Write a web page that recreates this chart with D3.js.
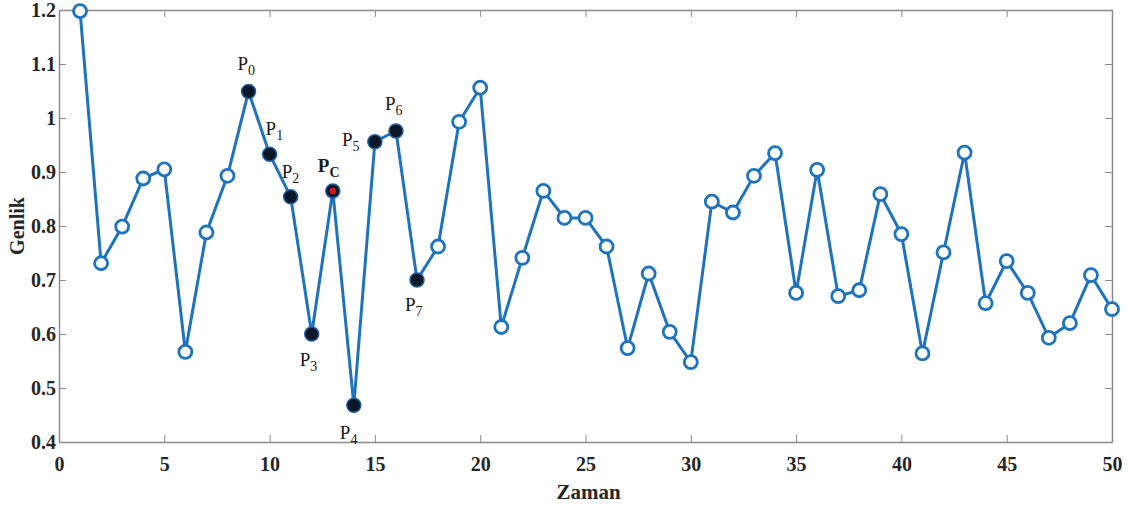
<!DOCTYPE html>
<html>
<head>
<meta charset="utf-8">
<script src="https://cdn.jsdelivr.net/npm/d3@7"></script>
<style>
  body { margin: 0; background: #fff; }
  svg { display: block; }
</style>
</head>
<body>
<div id="chart"></div>
<script>
// zaman (x) ve genlik (y) degerleri
const zaman = d3.range(1, 51);
const genlik = [
  1.198, 0.731, 0.799, 0.888, 0.905, 0.567, 0.788, 0.893, 1.049, 0.933,
  0.854, 0.600, 0.865, 0.468, 0.956, 0.976, 0.700, 0.762, 0.993, 1.056,
  0.613, 0.741, 0.865, 0.815, 0.815, 0.762, 0.574, 0.712, 0.604, 0.548,
  0.845, 0.825, 0.893, 0.935, 0.676, 0.904, 0.670, 0.681, 0.859, 0.785,
  0.564, 0.751, 0.936, 0.657, 0.735, 0.676, 0.593, 0.620, 0.709, 0.646,
];
const xTicks = [0, 5, 10, 15, 20, 25, 30, 35, 40, 45, 50];
const yTicks = [0.4, 0.5, 0.6, 0.7, 0.8, 0.9, 1.0, 1.1, 1.2];

// isaretli noktalar (zaman) ve etiketleri
const pointTimes = [9, 10, 11, 12, 14, 15, 16, 17];
const pointSubs = ["0", "1", "2", "3", "4", "5", "6", "7"];
const centerTime = 13;

const width = 1138, height = 507;
const margin = { top: 10, right: 26, bottom: 65, left: 59 };
const serif = '"Liberation Serif", "Times New Roman", serif';

const svg = d3.select("#chart").append("svg")
  .attr("width", width)
  .attr("height", height);

const x = d3.scaleLinear().domain([0, 50]).range([margin.left, width - margin.right]);
const y = d3.scaleLinear().domain([0.4, 1.2]).range([height - margin.bottom, margin.top]);

const axisColor = "#8a8a8a";
const tickLen = 7;

function styleAxis(g) {
  g.attr("font-family", serif).attr("font-size", 20).attr("font-weight", "bold");
  g.select(".domain").attr("stroke", axisColor).attr("stroke-width", 1.5);
  g.selectAll(".tick line").attr("stroke", axisColor).attr("stroke-width", 1);
  g.selectAll(".tick text").attr("fill", "#262626");
}

// alt ve sol eksenler (tikler ice dogru)
svg.append("g")
  .attr("transform", `translate(0,${y(0.4)})`)
  .call(d3.axisBottom(x).tickValues(xTicks).tickSizeInner(-tickLen).tickSizeOuter(0).tickPadding(15).tickFormat(d3.format("d")))
  .call(styleAxis);

svg.append("g")
  .attr("transform", `translate(${x(0)},0)`)
  .call(d3.axisLeft(y).tickValues(yTicks).tickSizeInner(-tickLen).tickSizeOuter(0).tickPadding(3).tickFormat(d => d3.format("~g")(d)))
  .call(styleAxis);

// ust ve sag eksenler (etiketsiz)
svg.append("g")
  .attr("transform", `translate(0,${y(1.2)})`)
  .call(d3.axisTop(x).tickValues(xTicks).tickSizeInner(-tickLen).tickSizeOuter(0).tickFormat(""))
  .call(styleAxis);

svg.append("g")
  .attr("transform", `translate(${x(50)},0)`)
  .call(d3.axisRight(y).tickValues(yTicks).tickSizeInner(-tickLen).tickSizeOuter(0).tickFormat(""))
  .call(styleAxis);

// eksen basliklari
svg.append("text")
  .attr("x", x(25) + 3)
  .attr("y", height - 8)
  .attr("text-anchor", "middle")
  .attr("font-family", serif)
  .attr("font-weight", "bold")
  .attr("font-size", 21)
  .attr("fill", "#262626")
  .text("Zaman");

svg.append("text")
  .attr("transform", `translate(24,${y(0.8)}) rotate(-90)`)
  .attr("text-anchor", "middle")
  .attr("font-family", serif)
  .attr("font-weight", "bold")
  .attr("font-size", 20)
  .attr("fill", "#262626")
  .text("Genlik");

const data = zaman.map((t, i) => ({ t, v: genlik[i] }));
const blue = "#1f72bd";

const line = d3.line().x(d => x(d.t)).y(d => y(d.v));

svg.append("path")
  .datum(data)
  .attr("fill", "none")
  .attr("stroke", blue)
  .attr("stroke-width", 3)
  .attr("d", line);

// acik halkalar
svg.append("g")
  .selectAll("circle")
  .data(data.filter(d => !pointTimes.includes(d.t) && d.t !== centerTime))
  .join("circle")
  .attr("cx", d => x(d.t))
  .attr("cy", d => y(d.v))
  .attr("r", 6.5)
  .attr("fill", "#fff")
  .attr("stroke", blue)
  .attr("stroke-width", 2.8);

// dolu noktalar P0..P7
svg.append("g")
  .selectAll("circle")
  .data(data.filter(d => pointTimes.includes(d.t)))
  .join("circle")
  .attr("cx", d => x(d.t))
  .attr("cy", d => y(d.v))
  .attr("r", 7)
  .attr("fill", "#0b1626")
  .attr("stroke", "#1f5e9a")
  .attr("stroke-width", 1.5);

// merkez nokta Pc
const pc = data.find(d => d.t === centerTime);
svg.append("circle")
  .attr("cx", x(pc.t)).attr("cy", y(pc.v))
  .attr("r", 7)
  .attr("fill", "#0b1626")
  .attr("stroke", "#1f5e9a")
  .attr("stroke-width", 1.5);
svg.append("circle")
  .attr("cx", x(pc.t)).attr("cy", y(pc.v))
  .attr("r", 3.2)
  .attr("fill", "#e0141e");

// etiket ofsetleri (piksel)
const labelOffsets = {
  9: [-11, -22], 10: [-4, -19], 11: [-9, -19], 12: [-12, 32],
  14: [-14, 34], 15: [-33, 4], 16: [-11, -21], 17: [-12, 31],
};

function addLabel(px, py, sub, bold) {
  const t = svg.append("text")
    .attr("x", px)
    .attr("y", py)
    .attr("font-family", serif)
    .attr("font-size", 19)
    .attr("font-weight", bold ? "bold" : "normal")
    .attr("fill", "#1a1a1a");
  t.append("tspan").text("P");
  t.append("tspan")
    .attr("dy", 5)
    .attr("font-size", 14)
    .text(sub);
}

pointTimes.forEach((tm, i) => {
  const d = data.find(e => e.t === tm);
  const [dx, dy] = labelOffsets[tm];
  addLabel(x(d.t) + dx, y(d.v) + dy, pointSubs[i], false);
});
addLabel(x(pc.t) - 15, y(pc.v) - 19, "C", true);
</script>
</body>
</html>
